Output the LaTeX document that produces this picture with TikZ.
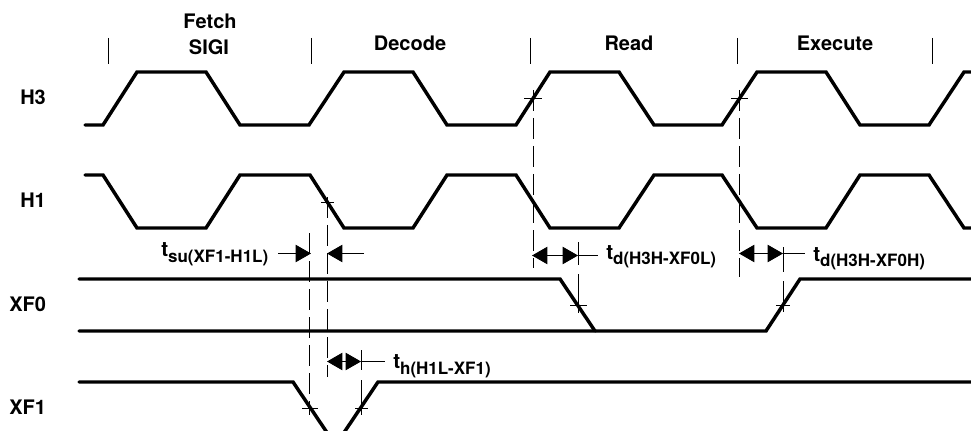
\documentclass[tikz,border=0pt]{standalone}
\usepackage{fontspec}
\setmainfont{TeX Gyre Heros}
\usetikzlibrary{arrows.meta}
\newcommand{\tlabel}[2]{{\fontsize{15.5}{18}\selectfont t}\raisebox{-#1}{\fontsize{12.75}{15}\selectfont #2}}
\tikzset{
  signal/.style={line width=2.6pt,line join=miter,line cap=round},
  thin line/.style={line width=0.7pt,black},
  guide/.style={thin line,dash pattern=on 16pt off 5pt},
  dim/.style={line width=0.7pt,-{Triangle[length=11.5pt,width=13pt]},shorten >=0pt},
  lbl/.style={font=\bfseries\fontsize{15}{18}\selectfont,inner sep=0pt,anchor=base},
  sig name/.style={lbl,anchor=base west},
  time/.style={font=\bfseries,inner sep=0pt,anchor=base west},
}
\begin{document}
\begin{tikzpicture}[x=0.75pt,y=-0.75pt]
\useasboundingbox (0,0) rectangle (971,431);
\clip (0,0) rectangle (971,431);
% phase ticks
\foreach \x/\n in {108.5/a,311.5/b,530.5/c,737.5/d,932.5/e}{
  \coordinate (tick\n t) at (\x,38);
  \coordinate (tick\n b) at (\x,64);
  \draw[thin line] (tick\n t) -- (tick\n b);
}
% phase labels
\node[lbl] (fetch) at (210,29) {Fetch};
\node[lbl] (sigi) at (209,55) {SIGI};
\node[lbl] (decode) at (410,51) {Decode};
\node[lbl] (read) at (629,51) {Read};
\node[lbl] (execute) at (835,51) {Execute};
% signal names
\node[sig name] (h3) at (20,105) {H3};
\node[sig name] (h1) at (20,208) {H1};
\node[sig name] (xf0) at (9,311) {XF0};
\node[sig name] (xf1) at (9,414) {XF1};
% signals
\draw[signal] (85,125) -- (103,125) -- (137,72) -- (206,72) -- (240,125) -- (309,125) -- (344,72) -- (413,72) -- (447,125) -- (516,125) -- (550,72) -- (619,72) -- (654,125) -- (722,125) -- (757,72) -- (826,72) -- (860,125) -- (929,125) -- (964,72) -- (975,72);
\draw[signal] (85,175) -- (103,175) -- (137,228) -- (206,228) -- (240,175) -- (310,175) -- (344,228) -- (413,228) -- (447,175) -- (516,175) -- (550,228) -- (619,228) -- (654,175) -- (722,175) -- (757,228) -- (826,228) -- (860,175) -- (929,175) -- (964,228) -- (975,228);
\draw[signal] (79,279) -- (560,279) -- (595,331);
\draw[signal] (79,331) -- (766,331) -- (800,279) -- (975,279);
\draw[signal] (79,382) -- (293,382) -- (330,437) -- (341,437) -- (378,382) -- (975,382);
% guides
\draw[guide] (327.5,197) -- (327.5,377);
\draw[guide] (309.5,233) -- (309.5,415);
\draw[guide] (533.5,90) -- (533.5,268);
\draw[guide] (739.5,90) -- (739.5,277);
\draw[thin line] (578.5,242) -- (578.5,265) (578.5,274) -- (578.5,313);
\draw[thin line] (783.5,247) -- (783.5,272) (783.5,281) -- (783.5,312);
\draw[thin line] (361.5,350) -- (361.5,370) (361.5,380) -- (361.5,415);
% crossing marks
\draw[thin line] (321,202.5) -- (334,202.5);
\draw[thin line] (524,98.5) -- (542,98.5);
\draw[thin line] (731,98.5) -- (748,98.5);
\draw[thin line] (570,305.5) -- (587,305.5);
\draw[thin line] (776,305.5) -- (790,305.5);
\draw[thin line] (355,408.5) -- (368,408.5);
\draw[thin line] (302,408.5) -- (318,408.5);
% dimension arrows
\coordinate (sua) at (278,253.5); \coordinate (sub) at (311,253.5);
\coordinate (suc) at (364,253.5); \coordinate (sud) at (327,253.5);
\draw[dim] (sua) -- (sub);
\draw[dim] (suc) -- (sud);
\coordinate (la) at (547,255.5); \coordinate (lb) at (532,255.5);
\coordinate (lc) at (598,255.5); \coordinate (ld) at (547,255.5); \coordinate (le) at (578,255.5);
\draw[dim] (la) -- (lb);
\draw[dim] (ld) -- (le);
\draw[thin line] (le) -- (lc);
\coordinate (ha) at (753,253.5); \coordinate (hb) at (739,253.5);
\coordinate (hc) at (805,253.5); \coordinate (he) at (783,253.5);
\draw[dim] (ha) -- (hb);
\draw[dim] (ha) -- (he);
\draw[thin line] (he) -- (hc);
\coordinate (ta) at (341,361.5); \coordinate (tb) at (327,361.5);
\coordinate (tc) at (385,361.5); \coordinate (te) at (361,361.5);
\draw[dim] (ta) -- (tb);
\draw[dim] (ta) -- (te);
\draw[thin line] (te) -- (tc);
% timing labels
\node[time] (tsu) at (161,257) {\tlabel{4pt}{su(XF1-H1L)}};
\node[time] (tdl) at (606,259) {\tlabel{4pt}{d(H3H-XF0L)}};
\node[time] (tdh) at (813,261) {\tlabel{4pt}{d(H3H-XF0H)}};
\node[time] (th) at (393,368) {\tlabel{4.5pt}{h(H1L-XF1)}};
\end{tikzpicture}
\end{document}
